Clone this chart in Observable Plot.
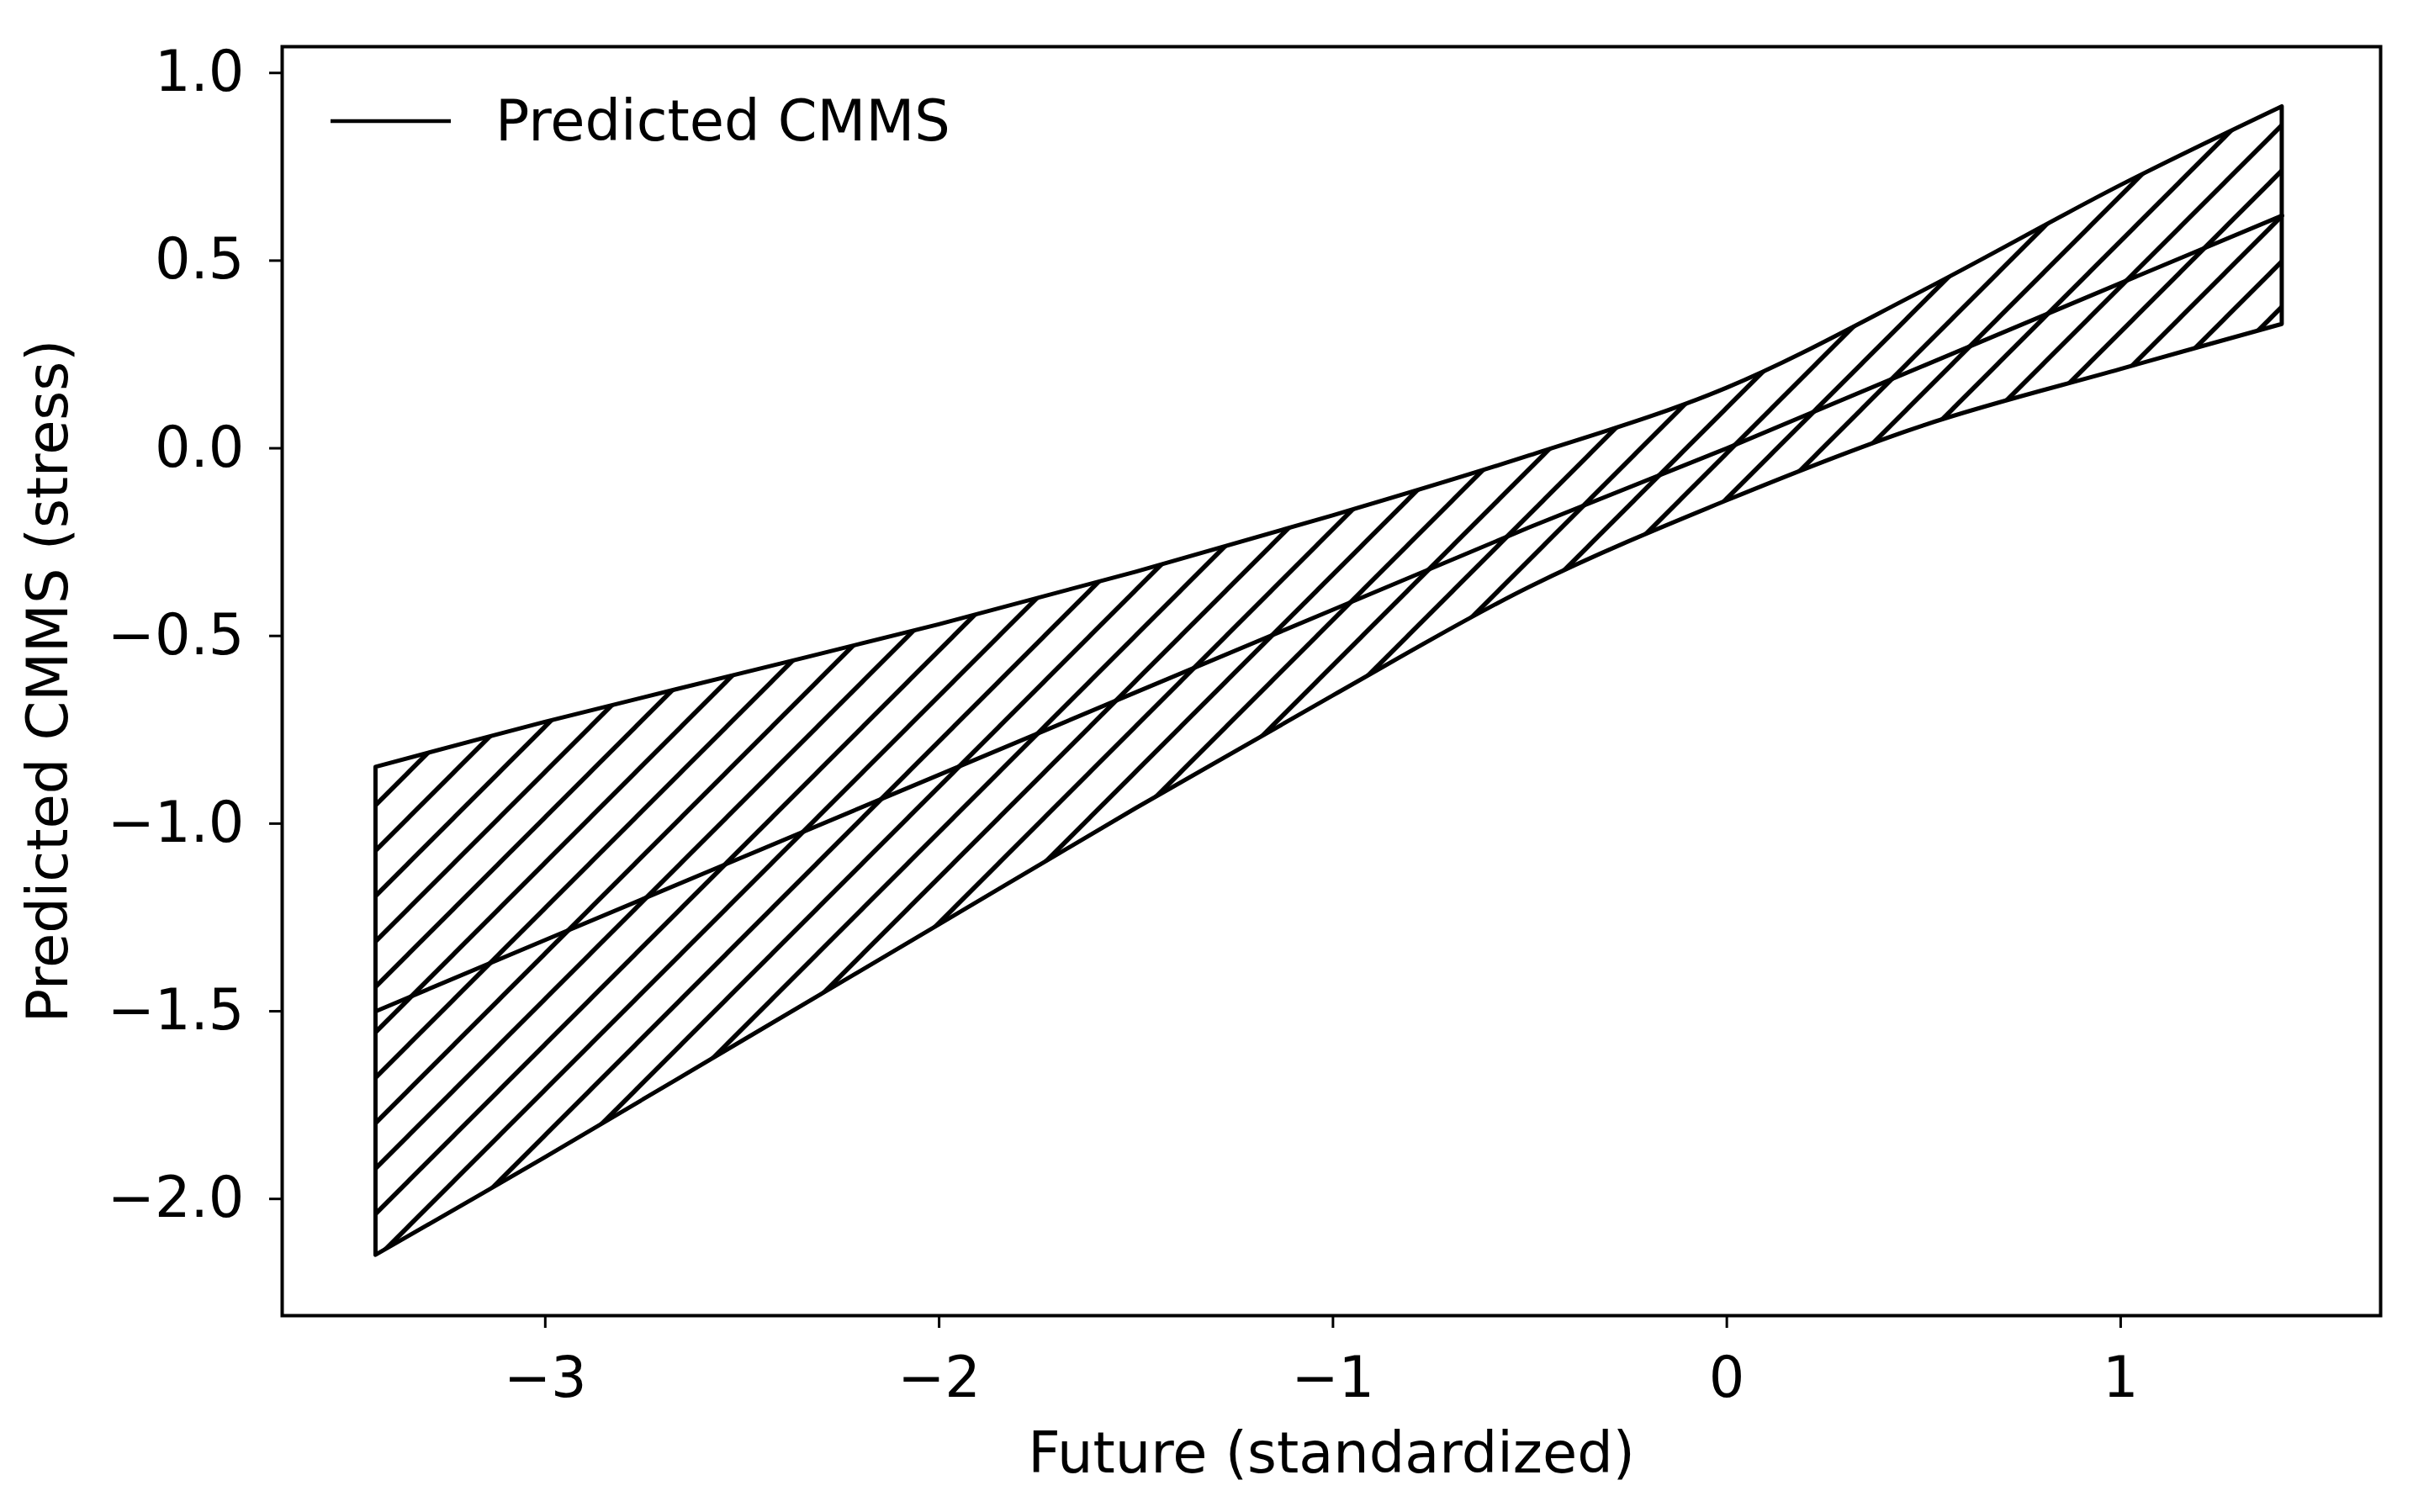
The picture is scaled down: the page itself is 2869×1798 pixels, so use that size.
<!DOCTYPE html>
<html>
<head>
<meta charset="utf-8">
<script src="https://cdn.jsdelivr.net/npm/d3@7"></script>
<script src="https://cdn.jsdelivr.net/npm/@observablehq/plot@0.6"></script>
<style>
  html, body { margin: 0; padding: 0; background: #fff; }
  #wrap { position: relative; width: 2869px; height: 1798px; font-family: "DejaVu Sans", sans-serif; }
  #legend { position: absolute; left: 393px; top: 105px; display: flex; align-items: center; font-size: 67px; color: #000; }
  #legend svg { display: block; margin-right: 53px; }
</style>
</head>
<body>
<div id="wrap">
  <div id="chart"></div>
  <div id="legend">
    <svg width="143" height="10"><line x1="0" x2="143" y1="5" y2="5" stroke="#000" stroke-width="4.5"/></svg>
    <span>Predicted CMMS</span>
  </div>
</div>
<script>
// Future (standardized) values at which the band was read
const futureX   = [-3.43, -3.0, -2.5, -2.0, -1.5, -1.0, -0.5, 0.0, 0.5, 1.0, 1.41];
// Predicted CMMS (fitted line)
const predicted = [-1.50, -1.31, -1.09, -0.87, -0.65, -0.43, -0.21, 0.00, 0.22, 0.44, 0.62];
// Upper and lower confidence bounds
const upperCI   = [-0.85, -0.73, -0.60, -0.47, -0.33, -0.18, -0.02, 0.16, 0.42, 0.70, 0.91];
const lowerCI   = [-2.15, -1.89, -1.58, -1.27, -0.96, -0.66, -0.37, -0.14, 0.06, 0.21, 0.33];

const xTicks = [-3, -2, -1, 0, 1];
const yTicks = [-2.0, -1.5, -1.0, -0.5, 0.0, 0.5, 1.0];

const xLabel = "Future (standardized)";
const yLabel = "Predicted CMMS (stress)";

const rows = futureX.map((x, i) => ({x, fit: predicted[i], hi: upperCI[i], lo: lowerCI[i]}));

const chart = Plot.plot({
  width: 2869,
  height: 1798,
  marginLeft: 335,
  marginRight: 39,
  marginTop: 55,
  marginBottom: 234,
  style: {fontFamily: "DejaVu Sans, sans-serif", background: "#fff", color: "#000", overflow: "visible"},
  x: {domain: [-3.668, 1.660]},
  y: {domain: [-2.311, 1.070]},
  marks: [
    Plot.areaY(rows, {x: "x", y1: "lo", y2: "hi", fill: "url(#hatch)", stroke: "#000", strokeWidth: 5, curve: "catmull-rom"}),
    Plot.line(rows, {x: "x", y: "fit", stroke: "#000", strokeWidth: 5}),
    Plot.frame({stroke: "#000", strokeWidth: 4}),
    Plot.axisX({ticks: xTicks, tickSize: 15, tickPadding: 34, fontSize: 67, tickFormat: d3.format("d"), label: null, strokeWidth: 3}),
    Plot.axisY({ticks: yTicks, tickSize: 15, tickPadding: 30, fontSize: 67, tickFormat: d3.format(".1f"), label: null, strokeWidth: 3}),
    Plot.text([xLabel], {frameAnchor: "bottom", text: d => d, dy: 165, fontSize: 67, lineAnchor: "middle", textAnchor: "middle"}),
    Plot.text([yLabel], {frameAnchor: "left", text: d => d, dx: -277, rotate: -90, fontSize: 67, lineAnchor: "middle", textAnchor: "middle"})
  ]
});

// hatch pattern: 45° lines, rising to the right
const ns = "http://www.w3.org/2000/svg";
const defs = document.createElementNS(ns, "defs");
const pat = document.createElementNS(ns, "pattern");
pat.setAttribute("id", "hatch");
pat.setAttribute("patternUnits", "userSpaceOnUse");
pat.setAttribute("width", "54");
pat.setAttribute("height", "54");
const p = document.createElementNS(ns, "path");
p.setAttribute("d", "M0,54L54,0M-8,8L8,-8M46,62L62,46");
p.setAttribute("stroke", "#000");
p.setAttribute("stroke-width", "5.5");
p.setAttribute("fill", "none");
pat.appendChild(p);
defs.appendChild(pat);
chart.insertBefore(defs, chart.firstChild);

document.getElementById("chart").appendChild(chart);
</script>
</body>
</html>
